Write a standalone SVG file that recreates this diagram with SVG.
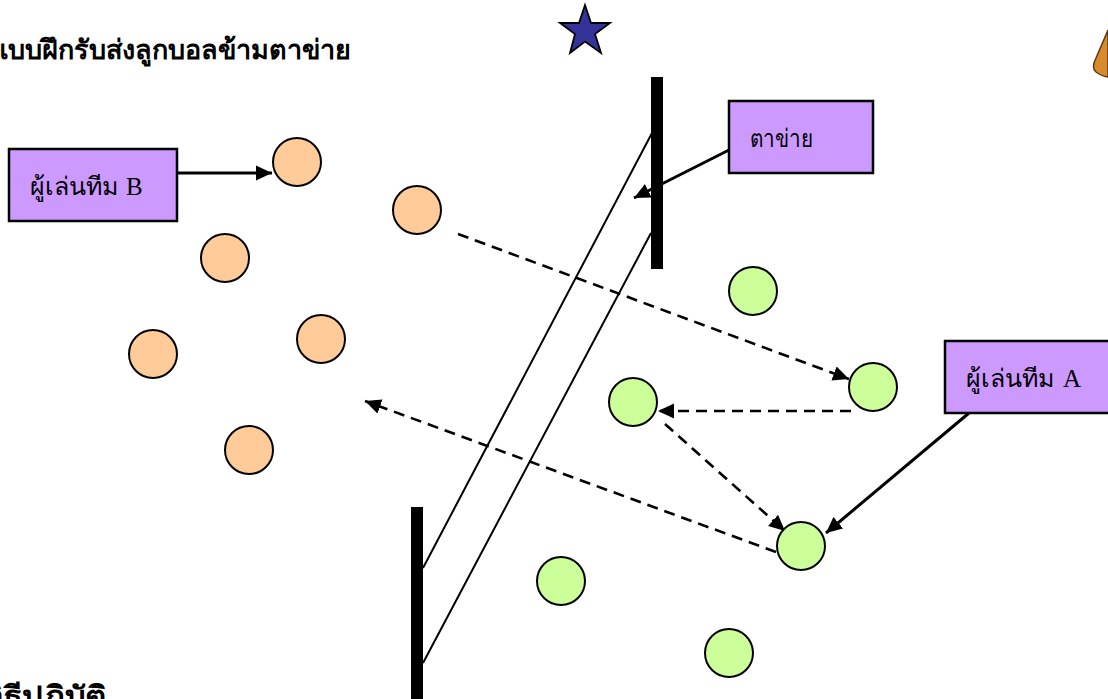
<svg xmlns="http://www.w3.org/2000/svg" width="1108" height="699" viewBox="0 0 1108 699">
<style>
text{font-family:"Liberation Serif","Noto Sans CJK SC",serif;fill:#000}
.t{font-size:27px;font-weight:bold}
.l{font-size:25px}
.box{fill:#cc99ff;stroke:#000;stroke-width:2.500}
.o{fill:#ffcc99;stroke:#000;stroke-width:2}
.g{fill:#ccff99;stroke:#000;stroke-width:2}
.a{fill:none;stroke:#000;stroke-width:3}
.d{fill:none;stroke:#000;stroke-width:2.600;stroke-dasharray:11 7}
.n{fill:none;stroke:#000;stroke-width:2}
</style>
<defs>
<marker id="ah" markerUnits="userSpaceOnUse" markerWidth="18" markerHeight="16" refX="16" refY="8" orient="auto"><path d="M0 0.500L16 8L0 15.500Z" fill="#000"/></marker>
</defs>
<rect width="1108" height="699" fill="#fff"/>
<text class="t" x="-9" y="59" textLength="360" lengthAdjust="spacingAndGlyphs">แบบฝึกรับส่งลูกบอลข้ามตาข่าย</text>
<text class="t" x="-15" y="705" textLength="122" lengthAdjust="spacingAndGlyphs">วิธีปฏิบัติ</text>
<g id="star"><path d="M585 5L591 23L610 23L595 34L601 53L585 41.500L570 53L575 34L560 23L579 23Z" fill="#333399" stroke="#000" stroke-width="1.800"/></g>
<g id="cone"><path d="M1108 30L1096 58Q1091 68 1096 72Q1101 76 1108 77Z" fill="#d98a2b" stroke="#5a3a10" stroke-width="1.500"/></g>
<g id="connectors">
<path class="n" d="M652 133L423 568M651 233L423 663"/>
<path class="a" d="M731 149L634 198" marker-end="url(#ah)"/>
<path class="a" d="M177 173L272 173" marker-end="url(#ah)"/>
<path class="a" d="M969 413L826 533" marker-end="url(#ah)"/>
<path class="d" d="M458 234L849 379" marker-end="url(#ah)"/>
<path class="d" d="M851 411L658 411" marker-end="url(#ah)"/>
<path class="d" d="M665 424L785 531" marker-end="url(#ah)"/>
<path class="d" d="M776 552L365 401" marker-end="url(#ah)"/>
</g>
<g id="net"><rect x="651" y="77" width="12" height="192" fill="#000"/><rect x="411" y="507" width="12" height="192" fill="#000"/></g>
<g id="box-b"><rect class="box" x="9" y="149" width="168" height="72"/><text class="l" x="30" y="195">ผู้เล่นทีม<tspan x="126">B</tspan></text></g>
<g id="box-net"><rect class="box" x="729" y="101" width="144" height="72"/><text class="l" x="750" y="147" textLength="63" lengthAdjust="spacingAndGlyphs">ตาข่าย</text></g>
<g id="box-a"><rect class="box" x="945" y="341" width="168" height="72"/><text class="l" x="966" y="387">ผู้เล่นทีม<tspan x="1063">A</tspan></text></g>
<g id="p-o1"><circle class="o" cx="297" cy="162" r="24"/></g>
<g id="p-o2"><circle class="o" cx="417" cy="210" r="24"/></g>
<g id="p-o3"><circle class="o" cx="225" cy="258" r="24"/></g>
<g id="p-o4"><circle class="o" cx="321" cy="339" r="24"/></g>
<g id="p-o5"><circle class="o" cx="153" cy="354" r="24"/></g>
<g id="p-o6"><circle class="o" cx="249" cy="450" r="24"/></g>
<g id="p-g1"><circle class="g" cx="753" cy="291" r="24"/></g>
<g id="p-g2"><circle class="g" cx="873" cy="387" r="24"/></g>
<g id="p-g3"><circle class="g" cx="633" cy="402" r="24"/></g>
<g id="p-g4"><circle class="g" cx="801" cy="546" r="24"/></g>
<g id="p-g5"><circle class="g" cx="561" cy="581" r="24"/></g>
<g id="p-g6"><circle class="g" cx="729" cy="653" r="24"/></g>
</svg>
